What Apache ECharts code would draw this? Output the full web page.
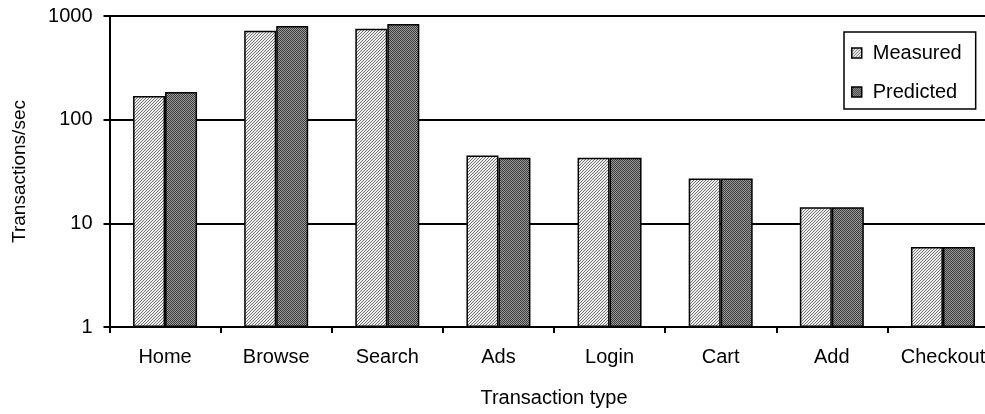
<!DOCTYPE html>
<html>
<head>
<meta charset="utf-8">
<script src="https://cdn.jsdelivr.net/npm/echarts@6/dist/echarts.min.js"></script>
<style>
  html, body { margin: 0; padding: 0; background: #fff; overflow: hidden; }
  #chart { width: 985px; height: 414px; }
</style>
</head>
<body>
<div id="chart"></div>
<script>
// Throughput per transaction type (log scale)
const categories = ['Home', 'Browse', 'Search', 'Ads', 'Login', 'Cart', 'Add', 'Checkout'];
const measured   = [169, 721, 755, 45, 43, 27, 14.3, 5.9];
const predicted  = [185, 801, 837, 43, 43, 27, 14.3, 5.9];
const yTicks     = [1, 10, 100, 1000];

// Small repeating tiles used as bar fills
function tile(size, painter) {
  const c = document.createElement('canvas');
  c.width = size; c.height = size;
  const ctx = c.getContext('2d');
  for (let y = 0; y < size; y++) {
    for (let x = 0; x < size; x++) {
      ctx.fillStyle = painter(x, y);
      ctx.fillRect(x, y, 1, 1);
    }
  }
  return c;
}
const hatchLight = tile(3, (x, y) => ((x + y) % 3 === 0 ? '#747474' : '#eeeeee'));
const checkDark  = tile(2, (x, y) => ((x + y) % 2 === 0 ? '#3a3a3a' : '#9c9c9c'));

const font = 'Liberation Sans, Arial, sans-serif';
const chart = echarts.init(document.getElementById('chart'), null, { renderer: 'canvas' });

chart.setOption({
  animation: false,
  backgroundColor: '#ffffff',
  textStyle: { fontFamily: font, color: '#000' },
  // plot runs a little past the right edge, so the last label is clipped
  grid: { left: 109.5, width: 889, top: 16, bottom: 87, containLabel: false, outerBoundsMode: 'none' },
  legend: {
    orient: 'vertical',
    left: 844,
    top: 32,
    padding: [11, 14, 7, 7],
    itemGap: 19,
    itemWidth: 10,
    itemHeight: 10,
    borderColor: '#000',
    borderWidth: 1.5,
    backgroundColor: '#fff',
    icon: 'rect',
    itemStyle: { borderColor: '#000', borderWidth: 1.5 },
    textStyle: { fontFamily: font, fontSize: 20, color: '#000', padding: [0, 0, 0, 6] },
    data: ['Measured', 'Predicted']
  },
  xAxis: {
    type: 'category',
    data: categories,
    boundaryGap: true,
    name: 'Transaction type',
    nameLocation: 'middle',
    nameGap: 61,
    nameTextStyle: { fontFamily: font, fontSize: 20, color: '#000' },
    axisLine: { lineStyle: { color: '#000', width: 2 } },
    axisTick: { show: true, interval: 0, length: 6, lineStyle: { color: '#000', width: 2 } },
    axisLabel: { fontFamily: font, fontSize: 20, color: '#000', margin: 20, interval: 0, hideOverlap: false },
    splitLine: { show: false }
  },
  yAxis: {
    type: 'log',
    logBase: 10,
    min: yTicks[0],
    max: yTicks[yTicks.length - 1],
    name: 'Transactions/sec',
    nameLocation: 'middle',
    nameGap: 80,
    nameTextStyle: { fontFamily: font, fontSize: 19, color: '#000' },
    axisLine: { show: true, lineStyle: { color: '#000', width: 2 } },
    axisTick: { show: true, length: 6, lineStyle: { color: '#000', width: 2 } },
    axisLabel: {
      fontFamily: font, fontSize: 20, color: '#000', margin: 17,
      formatter: v => String(Math.round(v))
    },
    splitLine: { show: true, lineStyle: { color: '#000', width: 2 } },
    minorTick: { show: false }
  },
  series: [
    {
      name: 'Measured',
      type: 'bar',
      data: measured,
      barWidth: 32,
      barGap: '0%',
      itemStyle: { color: { image: hatchLight, repeat: 'repeat' }, borderColor: '#000', borderWidth: 1.5 }
    },
    {
      name: 'Predicted',
      type: 'bar',
      data: predicted,
      barWidth: 32,
      barGap: '0%',
      itemStyle: { color: { image: checkDark, repeat: 'repeat' }, borderColor: '#000', borderWidth: 1.5 }
    }
  ]
});
</script>
</body>
</html>
